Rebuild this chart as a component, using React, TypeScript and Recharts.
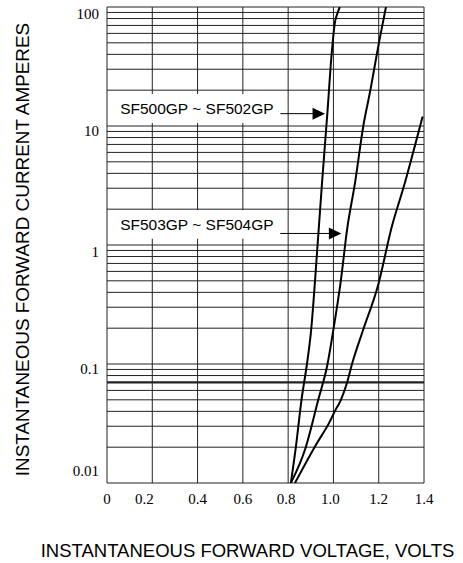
import { LineChart, Line, XAxis, YAxis, CartesianGrid, ReferenceArea, ReferenceLine, ReferenceDot, Label } from "recharts"

// SF500GP ~ SF502GP
const curveAVolts = [0.812, 0.834, 0.859, 0.883, 0.9, 0.93, 0.95, 0.974, 0.991, 1.007, 1.018, 1.028]
const curveAAmps = [0.01, 0.02, 0.05, 0.1, 0.18, 1, 3.4, 13.4, 38, 75, 89, 100]

// SF503GP ~ SF504GP
const curveBVolts = [0.812, 0.878, 0.933, 0.974, 0.997, 1.032, 1.061, 1.095, 1.132, 1.164, 1.2, 1.232]
const curveBAmps = [0.01, 0.02, 0.05, 0.1, 0.18, 0.49, 1.38, 3.3, 10, 20.4, 49, 100]

// third (unlabelled) curve
const curveCVolts = [0.83, 0.925, 0.981, 1.006, 1.033, 1.058, 1.084, 1.131, 1.196, 1.258, 1.315, 1.355, 1.394]
const curveCAmps = [0.01, 0.0213, 0.032, 0.04, 0.05, 0.0675, 0.103, 0.193, 0.45, 1.43, 3.3, 6.3, 12]

const xTicks = [0, 0.2, 0.4, 0.6, 0.8, 1.0, 1.2, 1.4]
const yTicks = [0.01, 0.1, 1, 10, 100]
const decades = [0.01, 0.1, 1, 10]
const multiples = [1, 2, 3, 4, 5, 6, 7, 8, 9]

const yGrid = [...decades.flatMap((d) => multiples.map((m) => +(d * m).toPrecision(3))), 100]

const toPoints = (volts: number[], amps: number[]) => volts.map((v, i) => ({ v, a: amps[i] }))

const serif = "'Liberation Serif', 'Times New Roman', serif"
const sans = "'Liberation Sans', Arial, sans-serif"

// small nudges for the tick labels, as printed on the sheet
const yShift = (v: number) => (v === 0.01 ? -12 : v === 1 ? 7 : 5)
const xShift = (v: number) => (v === 0.2 ? -8 : v === 1.0 ? -3 : v === 0.8 ? -2 : 0)

const YTick = ({ x, y, payload }: any) => (
  <text x={x} y={y + yShift(payload.value)} textAnchor="end" dominantBaseline="central" fontFamily={serif} fontSize={15} fill="#000">
    {String(payload.value)}
  </text>
)

const XTick = ({ x, y, payload }: any) => (
  <text x={x + xShift(payload.value)} y={y} dy="0.71em" textAnchor="middle" fontFamily={serif} fontSize={15} fill="#000">
    {payload.value === 0 ? "0" : payload.value.toFixed(1)}
  </text>
)

const arrowHead = ({ cx, cy }: any) => (
  <path d={`M${cx},${cy} L${cx - 12.5},${cy - 6} L${cx - 12.5},${cy + 6} Z`} fill="#000" />
)

const noteLabel = (value: string) => ({
  value,
  position: "insideLeft" as const,
  offset: 12,
  fill: "#000",
  fontSize: 15.5,
  fontFamily: sans,
})

export default function App() {
  return (
    <div style={{ position: "absolute", left: 0, top: 0, background: "#fff" }}>
      <LineChart width={463} height={563} margin={{ top: 7, right: 39, bottom: 0, left: 0 }}>
        <CartesianGrid horizontal={false} verticalValues={xTicks} stroke="#222" strokeWidth={1} />
        <XAxis
          dataKey="v"
          type="number"
          domain={[0, 1.4]}
          ticks={xTicks}
          height={80}
          tickSize={0}
          tickMargin={10}
          axisLine={false}
          tickLine={false}
          tick={<XTick />}
          allowDataOverflow
        >
          <Label
            content={() => (
              <text x={247.5} y={550} textAnchor="middle" dominantBaseline="central" fontFamily={sans} fontSize={18.5} fill="#000">
                INSTANTANEOUS FORWARD VOLTAGE, VOLTS
              </text>
            )}
          />
        </XAxis>
        <YAxis
          type="number"
          scale="log"
          domain={[0.01, 100]}
          ticks={yTicks}
          width={107}
          tickSize={0}
          tickMargin={8}
          axisLine={false}
          tickLine={false}
          tick={<YTick />}
          allowDataOverflow
        >
          <Label
            content={() => (
              <text
                x={22.5}
                y={249.5}
                transform="rotate(-90 22.5 249.5)"
                textAnchor="middle"
                dominantBaseline="central"
                fontFamily={sans}
                fontSize={18.9}
                fill="#000"
              >
                INSTANTANEOUS FORWARD CURRENT AMPERES
              </text>
            )}
          />
        </YAxis>
        {yGrid.map((g) => (
          <ReferenceLine key={g} y={g} stroke="#222" strokeWidth={1} />
        ))}
        <ReferenceLine y={0.07} stroke="#222" strokeWidth={2.2} />
        <ReferenceArea x1={0.005} x2={0.78} y1={10.6} y2={18.6} fill="#fff" fillOpacity={1} stroke="none" label={noteLabel("SF500GP ~ SF502GP")} />
        <ReferenceArea x1={0.005} x2={0.78} y1={1.13} y2={1.97} fill="#fff" fillOpacity={1} stroke="none" label={noteLabel("SF503GP ~ SF504GP")} />
        <ReferenceLine segment={[{ x: 0.766, y: 12.7 }, { x: 0.95, y: 12.7 }]} stroke="#000" strokeWidth={1} />
        <ReferenceDot x={0.963} y={12.7} r={0} shape={arrowHead} />
        <ReferenceLine segment={[{ x: 0.765, y: 1.25 }, { x: 1.02, y: 1.25 }]} stroke="#000" strokeWidth={1} />
        <ReferenceDot x={1.035} y={1.25} r={0} shape={arrowHead} />
        <Line data={toPoints(curveAVolts, curveAAmps)} dataKey="a" type="monotone" stroke="#000" strokeWidth={2} dot={false} isAnimationActive={false} />
        <Line data={toPoints(curveBVolts, curveBAmps)} dataKey="a" type="monotone" stroke="#000" strokeWidth={2} dot={false} isAnimationActive={false} />
        <Line data={toPoints(curveCVolts, curveCAmps)} dataKey="a" type="monotone" stroke="#000" strokeWidth={2} dot={false} isAnimationActive={false} />
      </LineChart>
    </div>
  )
}
